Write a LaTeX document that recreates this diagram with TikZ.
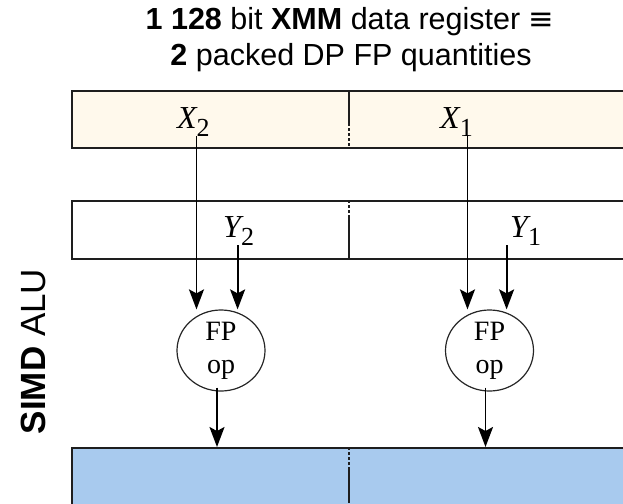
\documentclass[tikz,border=0pt]{standalone}
\usepackage{fontspec}
\setmainfont{Liberation Serif}
\setsansfont{Liberation Sans}
\newfontfamily\symfont{DejaVu Sans}
\usetikzlibrary{arrows.meta,shapes.geometric}
\definecolor{cream}{RGB}{255,249,236}
\definecolor{blueF}{RGB}{168,202,238}
\definecolor{edge}{RGB}{30,30,30}
\newcommand{\lab}[2]{{\itshape #1}\raisebox{-8pt}{\fontsize{26}{26}\selectfont #2}}
\begin{document}
\begin{tikzpicture}[x=1pt,y=-1pt,
  reg/.style={draw=edge, line width=1.8pt, inner sep=0pt, minimum width=580pt, anchor=north west},
  divsolid/.style={draw=edge, line width=1.6pt},
  divdash/.style={draw=edge, line width=1.6pt, dash pattern=on 3pt off 2pt},
  arr/.style={-{Stealth[length=20pt,width=15pt,inset=4pt]}, line width=1.8pt, draw=black},
  lbl/.style={font=\fontsize{32}{32}\selectfont, inner sep=0pt, anchor=base west},
  fpop/.style={ellipse, draw=black!85, line width=1.2pt, minimum width=88pt, minimum height=67pt,
    inner sep=0pt, align=center, font=\fontsize{28}{33}\selectfont},
  ttl/.style={font=\sffamily\fontsize{30.5}{30}\selectfont, inner sep=0pt, anchor=base}
]
\useasboundingbox (0,0) rectangle (623,503);
\clip (0,0) rectangle (623,503);

% title
\node[ttl] (t1) at (350,30) {\textbf{1 128} bit \textbf{XMM} data register {\symfont ≡}};
\node[ttl] (t2) at (351,65) {\textbf{2} packed DP FP quantities};

% registers
\node[reg, fill=cream, minimum height=57pt] (rtop) at (71,90) {};
\node[reg, fill=white, minimum height=58pt] (rmid) at (71,200) {};
\node[reg, fill=blueF, minimum height=80pt] (rbot) at (71,447) {};

% dividers
\draw[divsolid] (349,90) -- (349,123);
\draw[divdash] (349,123) -- (349,147);
\draw[divdash] (349,200) -- (349,217);
\draw[divsolid] (349,217) -- (349,258);
\draw[divdash] (349,447) -- (349,468);
\draw[divsolid] (349,468) -- (349,503);

% labels
\node[lbl] (x2) at (177,128) {\lab{X}{2}};
\node[lbl] (x1) at (440,128) {\lab{X}{1}};
\node[lbl] (y2) at (223,237) {\lab{Y}{2}};
\node[lbl] (y1) at (510,237) {\lab{Y}{1}};

% ALU side label
\node[rotate=90, font=\sffamily\fontsize{35}{35}\selectfont, inner sep=0pt, anchor=base] (alu) at (45,351.5) {\textbf{SIMD} ALU};

% FP ops
\node[fpop] (e1) at (221,350.5) {FP\\op};
\node[fpop] (e2) at (489.5,350.5) {FP\\op};

% arrows
\draw[arr] ([xshift=3pt]x2.south) -- ([xshift=3pt]x2.south |- e1.north);
\draw[arr] ([xshift=-1pt]y2.south) -- ([xshift=-1pt]y2.south |- e1.north);
\draw[arr] ([xshift=11pt]x1.south) -- ([xshift=11pt]x1.south |- e2.north);
\draw[arr] ([xshift=-19pt]y1.south) -- ([xshift=-19pt]y1.south |- e2.north);
\draw[arr] ([xshift=-4pt,yshift=4pt]e1.south) -- ([xshift=-4pt]e1.south |- rbot.north);
\draw[arr] ([xshift=-4pt,yshift=4pt]e2.south) -- ([xshift=-4pt]e2.south |- rbot.north);
\end{tikzpicture}
\end{document}
